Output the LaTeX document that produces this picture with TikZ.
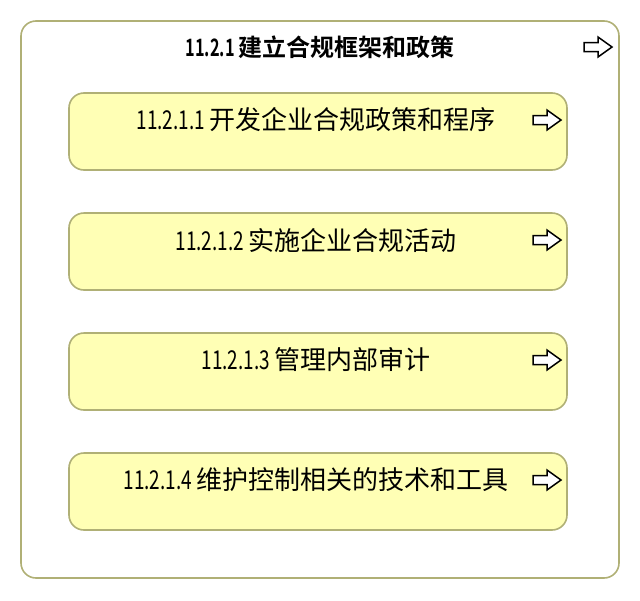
\documentclass[tikz,border=0pt]{standalone}
\usepackage{fontspec}
\newfontfamily\cjk{Noto Sans CJK SC}
\newfontfamily\cjkb{Noto Sans CJK SC Bold}
\definecolor{bord}{RGB}{176,176,118}
\definecolor{yfill}{RGB}{255,255,181}
\tikzset{
  outerbox/.style={draw=bord, line width=1.6pt, fill=white, rounded corners=15pt},
  innerbox/.style={draw=bord, line width=1.6pt, fill=yfill, rounded corners=15pt},
  lbl/.style={font=\cjk\fontsize{26}{30}\selectfont, text=black, inner sep=0pt},
  ttl/.style={font=\cjkb\fontsize{24}{28}\selectfont, text=black, inner sep=0pt},
  icon/.style={draw=black, line width=1.5pt, fill=white, line join=miter}
}
\newcommand{\rarrow}[2]{%
  \draw[icon] (#1-14,#2-4.5) -- (#1,#2-4.5) -- (#1,#2-10) -- (#1+14,#2) -- (#1,#2+10) -- (#1,#2+4.5) -- (#1-14,#2+4.5) -- cycle;}
\newcommand{\nar}[2]{\scalebox{#1}[1]{#2}}
\begin{document}
\begin{tikzpicture}[x=1pt,y=-1pt]
\useasboundingbox (0,0) rectangle (640,600);
\draw[outerbox] (21,21) rectangle (619,578);
\node[ttl] (t0) at (320,47) {\nar{0.68}{11.2.1 }建立合规框架和政策};
\rarrow{598}{47}
\foreach \i/\num/\txt in {0/11.2.1.1/开发企业合规政策和程序,1/11.2.1.2/实施企业合规活动,2/11.2.1.3/管理内部审计,3/11.2.1.4/维护控制相关的技术和工具}{
  \pgfmathsetmacro{\top}{93+120*\i}
  \draw[innerbox] (69,\top) rectangle (567,\top+77);
  \node[lbl] (n\i) at (316,\top+27) {\nar{0.73}{\num\ }\txt};
  \rarrow{547}{\top+27}
}
\end{tikzpicture}
\end{document}
